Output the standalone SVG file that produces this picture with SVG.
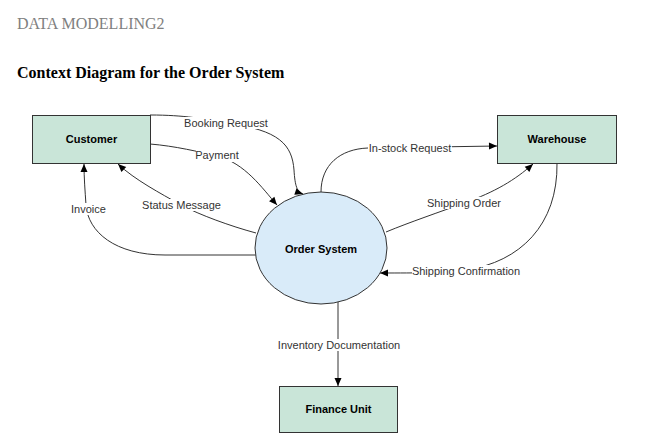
<svg xmlns="http://www.w3.org/2000/svg" width="657" height="439" viewBox="0 0 657 439">
<style>
.ttl{font-family:"Liberation Serif","Times New Roman",serif;font-size:16px}
.box{fill:#c9e5d8;stroke:#333;stroke-width:1}
.proc{fill:#d9ebf9;stroke:#333;stroke-width:1}
.nt{font-family:"Liberation Sans",Arial,sans-serif;font-size:11px;font-weight:bold;fill:#000;text-anchor:middle}
.ln{fill:none;stroke:#333;stroke-width:1;marker-end:url(#ah)}
.lb{font-family:"Liberation Sans",Arial,sans-serif;font-size:11px;fill:#333;text-anchor:middle}
.bg{fill:#fff}
</style>
<defs>
<marker id="ah" markerUnits="userSpaceOnUse" markerWidth="10" markerHeight="10" viewBox="0 0 10 10" refX="9" refY="5" orient="auto">
<path d="M1,1.5 L9,5 L1,8.5 Z" fill="#000"/>
</marker>
</defs>
<rect width="657" height="439" fill="#fff"/>
<text class="ttl" x="17" y="29" fill="#808080">DATA MODELLING2</text>
<text class="ttl" x="17" y="78" font-weight="bold" fill="#000">Context Diagram for the Order System</text>

<g id="connectors">
<g id="c-booking">
<path class="ln" d="M150,115 C185,115 205,119 226,123 C280,130 292,145 294,170 C295,186 297,192 303,194"/>
<rect class="bg" x="184" y="117" width="84" height="12"/>
<text class="lb" x="226" y="127">Booking Request</text>
</g>
<g id="c-payment">
<path class="ln" d="M150,144 C175,146 200,152 217,156 C245,163 262,188 277,205"/>
<rect class="bg" x="196" y="150" width="42" height="12"/>
<text class="lb" x="217" y="159">Payment</text>
</g>
<g id="c-status">
<path class="ln" d="M256,233 C230,226 200,215 181,205 C160,193 135,180 118,164"/>
<rect class="bg" x="142" y="199" width="79" height="12"/>
<text class="lb" x="181.5" y="209">Status Message</text>
</g>
<g id="c-invoice">
<path class="ln" d="M256,255 L165,255 C115,255 88,232 86,205 C85,190 84,178 84,164"/>
<rect class="bg" x="70" y="203" width="37" height="12"/>
<text class="lb" x="88.5" y="213">Invoice</text>
</g>
<g id="c-instock">
<path class="ln" d="M321,192 C321,165 340,149 368,148 L497,146"/>
<rect class="bg" x="368" y="142" width="84" height="12"/>
<text class="lb" x="410" y="152">In-stock Request</text>
</g>
<g id="c-shiporder">
<path class="ln" d="M386,232 C410,222 440,212 464,203 C495,192 515,180 533,164"/>
<rect class="bg" x="427" y="197" width="74" height="12"/>
<text class="lb" x="464" y="207">Shipping Order</text>
</g>
<g id="c-shipconf">
<path class="ln" d="M557,163 C558,225 520,262 466,270 C440,273 420,273 380,273"/>
<rect class="bg" x="412" y="265" width="108" height="12"/>
<text class="lb" x="466" y="275">Shipping Confirmation</text>
</g>
<g id="c-inventory">
<path class="ln" d="M338,302 L338,386"/>
<rect class="bg" x="278" y="339" width="122" height="12"/>
<text class="lb" x="339" y="349">Inventory Documentation</text>
</g>
</g>

<g id="customer">
<rect class="box" x="32.5" y="115.5" width="118" height="48"/>
<text class="nt" x="91.5" y="143">Customer</text>
</g>
<g id="warehouse">
<rect class="box" x="497.5" y="115.5" width="119" height="48"/>
<text class="nt" x="557" y="143">Warehouse</text>
</g>
<g id="order-system">
<ellipse class="proc" cx="321" cy="248" rx="66" ry="56"/>
<text class="nt" x="321" y="253">Order System</text>
</g>
<g id="finance-unit">
<rect class="box" x="279.5" y="386.5" width="118" height="46"/>
<text class="nt" x="338.5" y="413">Finance Unit</text>
</g>
</svg>
